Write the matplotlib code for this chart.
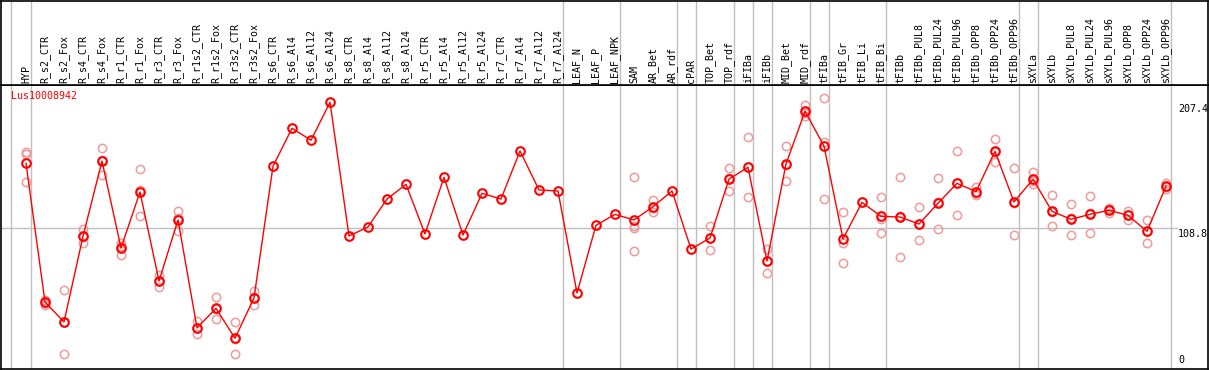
import matplotlib
matplotlib.use('Agg')
import matplotlib.pyplot as plt

# Datos
gene = 'Lus10008942'

categories = [
    'HYP', 'R_s2_CTR', 'R_s2_Fox', 'R_s4_CTR', 'R_s4_Fox', 'R_r1_CTR', 'R_r1_Fox',
    'R_r3_CTR', 'R_r3_Fox', 'R_r1s2_CTR', 'R_r1s2_Fox', 'R_r3s2_CTR', 'R_r3s2_Fox',
    'R_s6_CTR', 'R_s6_Al4', 'R_s6_Al12', 'R_s6_Al24', 'R_s8_CTR', 'R_s8_Al4',
    'R_s8_Al12', 'R_s8_Al24', 'R_r5_CTR', 'R_r5_Al4', 'R_r5_Al12', 'R_r5_Al24',
    'R_r7_CTR', 'R_r7_Al4', 'R_r7_Al12', 'R_r7_Al24', 'LEAF_N', 'LEAF_P', 'LEAF_NPK',
    'SAM', 'AR_Bet', 'AR_rdf', 'cPAR', 'TOP_Bet', 'TOP_rdf', 'iFIBa', 'iFIBb',
    'MID_Bet', 'MID_rdf', 'tFIBa', 'tFIB_Gr', 'tFIB_Li', 'tFIB_Bi', 'tFIBb',
    'tFIBb_PUL8', 'tFIBb_PUL24', 'tFIBb_PUL96', 'tFIBb_OPP8', 'tFIBb_OPP24',
    'tFIBb_OPP96', 'sXYLa', 'sXYLb', 'sXYLb_PUL8', 'sXYLb_PUL24', 'sXYLb_PUL96',
    'sXYLb_OPP8', 'sXYLb_OPP24', 'sXYLb_OPP96',
]

means = [
    159.5, 50.7, 35.1, 102.3, 161.3, 93.1, 137.0, 67.2, 115.1, 30.4, 45.8, 22.3, 53.9,
    157.2, 187.0, 177.6, 207.4, 102.5, 109.6, 131.5, 143.0, 104.1, 148.5, 103.3, 136.0,
    131.5, 169.2, 138.6, 137.8, 57.8, 110.9, 119.5,
    115.1, 125.5, 137.8, 92.3, 100.9, 147.2, 156.4, 82.9, 159.0, 200.3, 173.1, 100.2,
    128.9, 117.9, 117.4, 111.9, 128.2, 143.8, 137.3, 168.9, 129.2, 147.0, 121.9, 115.6,
    119.5, 122.7, 118.7, 106.2, 141.5,
]

replicates = [
    [168.1, 166.8, 144.6], [52.3, 50.2, 48.4], [59.9, 35.4, 10.0], [108.3, 101.8, 96.8],
    [171.3, 162.2, 150.4], [97.3, 94.4, 87.6], [154.8, 138.2, 118.0], [71.9, 67.4, 62.3],
    [122.1, 116.5, 106.7], [35.8, 30.0, 25.4], [54.7, 45.5, 37.2], [35.1, 22.1, 9.7],
    [59.1, 54.4, 48.2],
    [], [], [], [], [], [], [], [], [], [], [], [], [], [], [], [], [], [], [],
    [149.0, 110.6, 108.5, 90.7], [130.7, 124.2, 121.6], [], [], [110.4, 101.0, 91.3],
    [155.6, 148.2, 137.8], [179.9, 156.4, 132.9], [92.1, 83.1, 73.5], [173.1, 158.5, 145.4],
    [205.3, 199.0, 196.6], [210.5, 176.5, 131.5], [121.1, 96.8, 81.3], [],
    [132.9, 116.2, 104.6], [148.5, 117.9, 85.8], [125.0, 111.6, 99.1], [148.0, 128.8, 107.8],
    [168.9, 143.8, 118.7], [141.2, 136.0, 134.7], [178.4, 168.0, 160.3], [155.8, 128.7, 103.1],
    [152.5, 145.5, 143.0], [134.4, 121.2, 110.1], [127.4, 116.3, 103.1], [133.6, 120.3, 104.6],
    [124.2, 123.6, 120.3], [122.4, 118.6, 115.1], [114.8, 106.5, 97.3], [144.3, 140.8, 139.4],
]

# ultimo indice de cada grupo (separadores verticales)
group_ends = [-1, 0, 28, 31, 34, 35, 37, 38, 39, 41, 42, 45, 52, 53, 60]

y_ticks = [207.4, 108.8, 0]
y_ref = 108.8

W, H = 1209, 370
fig = plt.figure(figsize=(W / 100, H / 100), dpi=100)
fig.patch.set_facecolor('white')

mono = 'DejaVu Sans Mono'
gray = '#c0c0c0'

# posicion en pixeles: categoria i en x = 26 + 19*i
x_left = (1 - 26) / 19
x_right = (1208 - 26) / 19

# eje principal (y de 85 a 369 px)
ax = fig.add_axes([1 / W, (H - 369) / H, 1207 / W, 284 / H])
ax.set_xlim(x_left, x_right)
ax.set_ylim((366.7 - 369) / 1.275, (366.7 - 85) / 1.275)
ax.set_xticks([])
ax.set_yticks([])
for s in ax.spines.values():
    s.set_color('black')
    s.set_linewidth(1.2)

# cabecera con etiquetas
hx = fig.add_axes([1 / W, (H - 85) / H, 1207 / W, 84.5 / H])
hx.set_xlim(x_left, x_right)
hx.set_ylim(0, 85)
hx.set_xticks([])
hx.set_yticks([])
for s in hx.spines.values():
    s.set_color('black')
    s.set_linewidth(1.2)

for g in group_ends:
    sep = g + 0.25 if g >= 0 else -0.8
    ax.axvline(sep, color=gray, lw=1, zorder=1)
    hx.axvline(sep, color=gray, lw=1, zorder=1)

ax.axhline(y_ref, xmin=0, xmax=(1177 - 1) / 1207, color=gray, lw=1, zorder=1)

xs = list(range(len(categories)))
for i, label in enumerate(categories):
    hx.text(i, 2, label, rotation=90, ha='center', va='bottom',
            fontsize=7.2, family=mono, color='black')

# replicados
rx = [i for i, r in enumerate(replicates) for _ in r]
ry = [v for r in replicates for v in r]
ax.plot(rx, ry, linestyle='none', marker='o', ms=6, mfc='none',
        mec='#f09a9a', mew=1.1, zorder=2)

# medias
ax.plot(xs, means, color='red', lw=1, marker='o', ms=6.2, mfc='none',
        mec='red', mew=1.5, zorder=3)

# etiquetas del eje derecho
x_lab = (1178 - 26) / 19
for v in y_ticks:
    if v == 0:
        ax.text(x_lab, v + 1, '0', ha='left', va='bottom', fontsize=7.2,
                family=mono, color='black')
    else:
        ax.text(x_lab, v - 1, f'{v}', ha='left', va='top', fontsize=7.2,
                family=mono, color='black')

ax.text(10 / 1207, 1 - 6 / 284, gene, transform=ax.transAxes, ha='left', va='top',
        fontsize=7.2, family=mono, color='red')

fig.savefig('out.png', dpi=100, facecolor='white')
plt.close(fig)
